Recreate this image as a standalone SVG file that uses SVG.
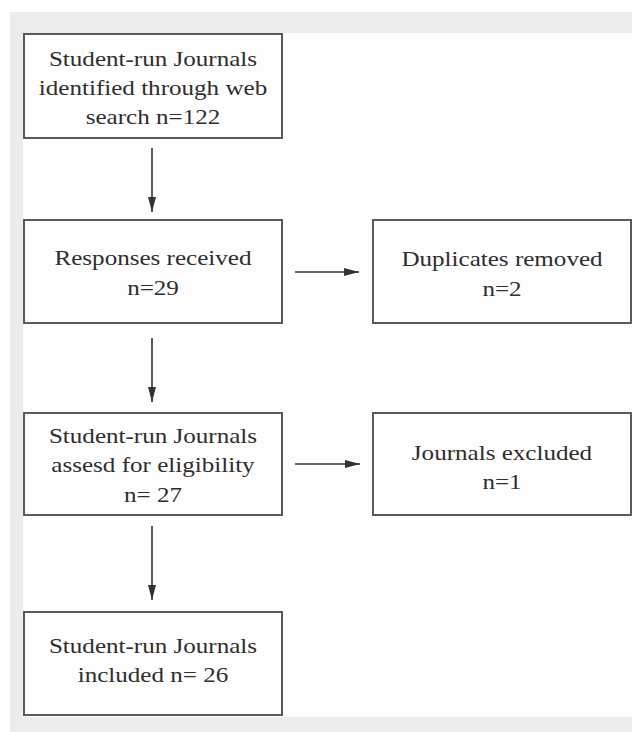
<svg xmlns="http://www.w3.org/2000/svg" width="632" height="732" viewBox="0 0 632 732">
  <defs>
    <style>
      .box { fill: #fdfdfd; stroke: #5a5a5a; stroke-width: 2; }
      .lbl { font-family: "Liberation Serif", "Times New Roman", serif; font-size: 22px; fill: #2e2e2e; text-anchor: middle; }
      .conn { stroke: #333; stroke-width: 1.6; fill: none; marker-end: url(#arrow); }
    </style>
    <marker id="arrow" markerUnits="userSpaceOnUse" viewBox="0 0 15 8" markerWidth="15" markerHeight="8" refX="15" refY="4" orient="auto">
      <path d="M0,0 L15,4 L0,8 Z" fill="#333"/>
    </marker>
  </defs>

  <rect x="0" y="0" width="632" height="732" fill="#ffffff"/>
  <rect x="10" y="12" width="622" height="720" fill="#ececec"/>
  <rect x="23" y="33" width="609" height="684" fill="#fdfdfd"/>

  <g id="connectors">
    <line class="conn" x1="152" y1="148" x2="152" y2="212"/>
    <line class="conn" x1="295" y1="272" x2="359" y2="272"/>
    <line class="conn" x1="152" y1="338" x2="152" y2="402"/>
    <line class="conn" x1="295" y1="464" x2="360" y2="464"/>
    <line class="conn" x1="152" y1="526" x2="152" y2="600"/>
  </g>

  <g id="node-identified">
    <rect class="box" x="24" y="34" width="258" height="104"/>
    <g transform="matrix(1.14 0 0 1 153 0)">
      <text class="lbl" x="0" y="66">Student-run Journals</text>
      <text class="lbl" x="0" y="95">identified through web</text>
      <text class="lbl" x="0" y="124">search n=122</text>
    </g>
  </g>

  <g id="node-responses">
    <rect class="box" x="24" y="220" width="258" height="103"/>
    <g transform="matrix(1.14 0 0 1 153 0)">
      <text class="lbl" x="0" y="265">Responses received</text>
      <text class="lbl" x="0" y="295">n=29</text>
    </g>
  </g>

  <g id="node-duplicates">
    <rect class="box" x="373" y="220" width="258" height="103"/>
    <g transform="matrix(1.14 0 0 1 502 0)">
      <text class="lbl" x="0" y="266">Duplicates removed</text>
      <text class="lbl" x="0" y="296">n=2</text>
    </g>
  </g>

  <g id="node-assessed">
    <rect class="box" x="24" y="413" width="258" height="102"/>
    <g transform="matrix(1.14 0 0 1 153 0)">
      <text class="lbl" x="0" y="443">Student-run Journals</text>
      <text class="lbl" x="0" y="472">assesd for eligibility</text>
      <text class="lbl" x="0" y="502">n= 27</text>
    </g>
  </g>

  <g id="node-excluded">
    <rect class="box" x="373" y="413" width="258" height="102"/>
    <g transform="matrix(1.14 0 0 1 502 0)">
      <text class="lbl" x="0" y="460">Journals excluded</text>
      <text class="lbl" x="0" y="489">n=1</text>
    </g>
  </g>

  <g id="node-included">
    <rect class="box" x="24" y="612" width="258" height="103"/>
    <g transform="matrix(1.14 0 0 1 153 0)">
      <text class="lbl" x="0" y="653">Student-run Journals</text>
      <text class="lbl" x="0" y="682">included n= 26</text>
    </g>
  </g>
</svg>
